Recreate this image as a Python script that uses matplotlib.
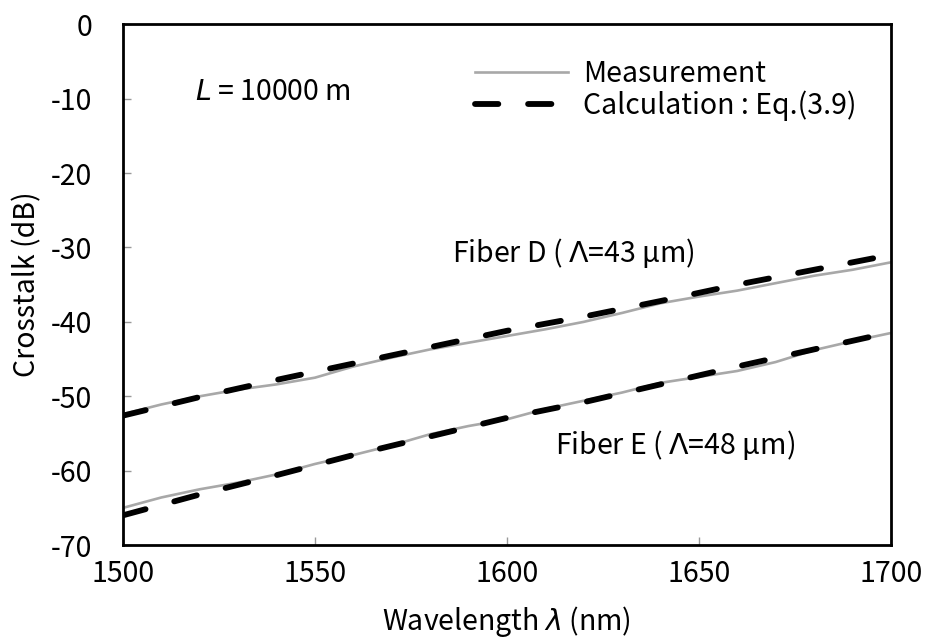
import matplotlib
matplotlib.use('Agg')
import matplotlib.pyplot as plt

plt.rcParams['font.family'] = ['Noto Sans CJK JP', 'DejaVu Sans']
plt.rcParams['mathtext.fontset'] = 'dejavusans'
plt.rcParams['axes.unicode_minus'] = False

# Measured crosstalk (dB)
wl_meas = [1500, 1510, 1520, 1530, 1540, 1550, 1560, 1570, 1580, 1590, 1600,
           1610, 1620, 1630, 1640, 1650, 1660, 1670, 1680, 1690, 1700]
meas_d = [-52.4, -51.1, -50.0, -49.1, -48.4, -47.5, -46.0, -44.8, -43.7, -42.8, -41.9,
          -41.0, -40.0, -38.8, -37.5, -36.6, -35.8, -34.8, -33.8, -33.0, -32.0]
meas_e = [-65.0, -63.6, -62.5, -61.6, -60.5, -59.1, -57.9, -56.6, -55.1, -54.0, -53.1,
          -51.7, -50.6, -49.5, -48.2, -47.4, -46.6, -45.4, -43.8, -42.6, -41.5]

# Calculated crosstalk, Eq.(3.9)
wl_calc = [1500, 1520, 1540, 1560, 1580, 1600, 1620, 1640, 1660, 1680, 1700]
calc_d = [-52.6, -50.1, -47.8, -45.6, -43.4, -41.2, -39.3, -37.2, -35.0, -33.0, -31.0]
calc_e = [-66.0, -63.2, -60.6, -57.9, -55.4, -52.9, -50.8, -48.4, -46.0, -43.7, -41.4]

xticks = [1500, 1550, 1600, 1650, 1700]
yticks = [0, -10, -20, -30, -40, -50, -60, -70]

fs = 20.5
grey = '#a8a8a8'

fig = plt.figure(figsize=(9.25, 6.39), dpi=100)
ax = fig.add_axes([0.133, 0.147, 0.830, 0.815])

ax.plot(wl_meas, meas_d, color=grey, lw=1.9, label='Measurement')
ax.plot(wl_meas, meas_e, color=grey, lw=1.9)
ax.plot(wl_calc, calc_d, color='black', lw=4.2, linestyle=(0, (4.0, 5.1)),
        dash_capstyle='round', label='Calculation : Eq.(3.9)')
ax.plot(wl_calc, calc_e, color='black', lw=4.2, linestyle=(0, (4.0, 5.1)),
        dash_capstyle='round')

ax.set_xlim(1500, 1700)
ax.set_ylim(-70, 0)
ax.set_xticks(xticks)
ax.set_yticks(yticks)
ax.tick_params(direction='in', length=6, width=1, color='#999999', labelsize=fs)
ax.tick_params(axis='x', pad=10)
ax.tick_params(axis='y', pad=22)
for s in ax.spines.values():
    s.set_linewidth(2)
    s.set_color('black')

ax.set_xlabel(r'Wavelength $\mathit{\lambda}$ (nm)', fontsize=fs, va='baseline')
ax.xaxis.set_label_coords(0.5, -0.163)
ax.set_ylabel('Crosstalk (dB)', fontsize=fs, labelpad=6)

ax.text(1518.8, -9.1, r'$\mathit{L}$ = 10000 m', fontsize=fs, va='center')
ax.text(1585.7, -30.8, r'Fiber D ( $\mathit{\Lambda}$=43 μm)', fontsize=fs, va='center')
ax.text(1612.5, -56.6, r'Fiber E ( $\mathit{\Lambda}$=48 μm)', fontsize=fs, va='center')

ax.legend(loc='upper left', bbox_to_anchor=(0.443, 0.955), frameon=False,
          fontsize=fs, handlelength=3.3, handletextpad=0.5, labelspacing=0.05,
          borderaxespad=0)

fig.savefig('out.png', dpi=100)
